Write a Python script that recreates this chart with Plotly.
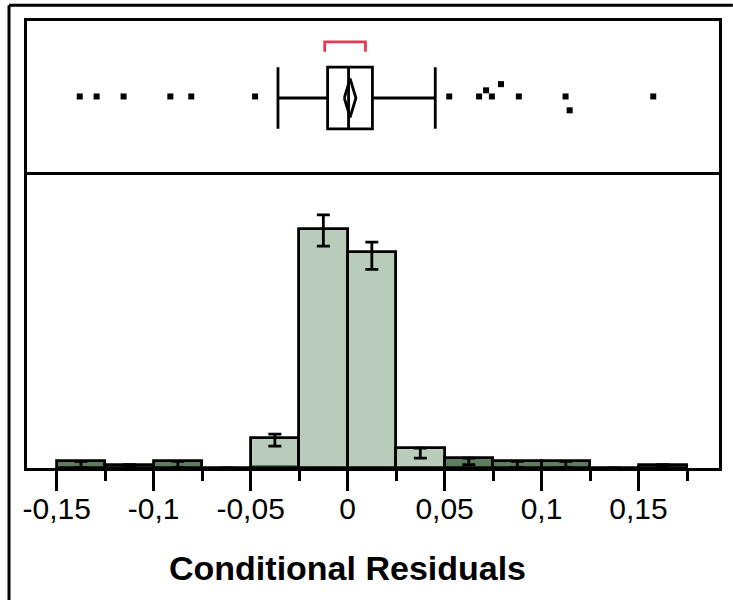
import plotly.graph_objects as go

# ---------------- data ----------------
bin_centers = [-0.1375, -0.1125, -0.0875, -0.0625, -0.0375, -0.0125, 0.0125,
               0.0375, 0.0625, 0.0875, 0.1125, 0.1375, 0.1625]
bin_width = 0.025
counts = [2, 1, 2, 0, 9, 72, 65, 6, 3, 2, 2, 0, 1]
selected_counts = [2, 1, 2, 0, 1, 0, 0, 0, 3, 2, 2, 0, 1]
err_plus = [0, 0, 0, 0, 1.2, 4.2, 3.0, 0, 0, 0, 0, 0, 0]
err_minus = [1.8, 0.9, 1.8, 0, 2.4, 5.2, 5.2, 3.0, 2.0, 1.8, 1.8, 0, 0.9]

# box plot summary
q1 = -0.0103
median = 0.0005
q3 = 0.0128
whisker_lo = -0.0359
whisker_hi = 0.0452
mean = 0.0013
mean_ci_lo = -0.0017
mean_ci_hi = 0.0043
shortest_half = [-0.0118, 0.0092]
outliers_x = [-0.1381, -0.1294, -0.1155, -0.0914, -0.0806, -0.0477, 0.0524, 0.0678,
              0.0714, 0.0744, 0.0791, 0.0883, 0.1124, 0.1145, 0.1576]
outliers_jitter = [0.51, 0.51, 0.51, 0.51, 0.51, 0.51, 0.51, 0.51,
                   0.55, 0.51, 0.59, 0.51, 0.51, 0.42, 0.51]

tick_vals = [-0.15, -0.1, -0.05, 0, 0.05, 0.1, 0.15]
tick_text = ["-0,15", "-0,1", "-0,05", "0", "0,05", "0,1", "0,15"]
x_title = "Conditional Residuals"

LIGHT = "#B9CBBB"
DARK = "#5E7D5E"
FONT = "Arial, Liberation Sans, sans-serif"

fig = go.Figure()

# histogram fills
fig.add_trace(go.Bar(x=bin_centers, y=counts, width=bin_width, marker=dict(color=LIGHT, line=dict(width=0)),
                     xaxis="x", yaxis="y", showlegend=False, hoverinfo="skip"))
fig.add_trace(go.Bar(x=bin_centers, y=selected_counts, width=bin_width, marker=dict(color=DARK, line=dict(width=0)),
                     xaxis="x", yaxis="y", showlegend=False, hoverinfo="skip"))
# outlines + error bars
fig.add_trace(go.Bar(x=bin_centers, y=counts, width=bin_width,
                     marker=dict(color="rgba(0,0,0,0)", line=dict(color="black", width=2.8)),
                     error_y=dict(type="data", symmetric=False, array=err_plus, arrayminus=err_minus,
                                  color="black", thickness=2.8, width=6.5),
                     xaxis="x", yaxis="y", showlegend=False, hoverinfo="skip"))

# box plot
fig.add_trace(go.Box(q1=[q1], median=[median], q3=[q3], lowerfence=[whisker_lo], upperfence=[whisker_hi],
                     y=[0.5], orientation="h", width=0.4, whiskerwidth=1, boxpoints=False,
                     fillcolor="white", line=dict(color="black", width=2.8),
                     xaxis="x2", yaxis="y2", showlegend=False, hoverinfo="skip"))
# mean diamond
dh = 0.125
fig.add_trace(go.Scatter(x=[mean_ci_lo, mean, mean_ci_hi, mean, mean_ci_lo],
                         y=[0.5, 0.5 + dh, 0.5, 0.5 - dh, 0.5], mode="lines",
                         line=dict(color="black", width=2.8), xaxis="x2", yaxis="y2",
                         showlegend=False, hoverinfo="skip"))
# shortest half bracket
fig.add_trace(go.Scatter(x=[shortest_half[0], shortest_half[0], shortest_half[1], shortest_half[1]],
                         y=[0.80, 0.865, 0.865, 0.80], mode="lines",
                         line=dict(color="#E8384F", width=2.8), xaxis="x2", yaxis="y2",
                         showlegend=False, hoverinfo="skip"))
# outliers
fig.add_trace(go.Scatter(x=outliers_x, y=outliers_jitter, mode="markers",
                         marker=dict(symbol="square", size=6, color="black", line=dict(width=0)),
                         xaxis="x2", yaxis="y2", showlegend=False, hoverinfo="skip"))

x_range = [-0.1653, 0.1915]
split = 0.6555

fig.update_layout(
    width=733, height=600,
    margin=dict(l=27, r=11, t=21, b=132),
    paper_bgcolor="white", plot_bgcolor="white",
    barmode="overlay", bargap=0,
    font=dict(family=FONT, color="black"),
    xaxis=dict(domain=[0, 1], range=x_range, showgrid=False, zeroline=False,
               showline=True, linecolor="black", linewidth=3, mirror=True,
               ticks="outside", ticklen=20, tickwidth=2.8, tickcolor="black",
               tickvals=tick_vals, ticktext=tick_text, tickfont=dict(size=30, family=FONT),
               ticklabelstandoff=-8,
               minor=dict(dtick=0.025, tick0=0.025, ticks="outside", ticklen=10, tickwidth=2.8,
                          tickcolor="black", showgrid=False)),
    yaxis=dict(domain=[0, split], range=[0, 88.2], showgrid=False, zeroline=False,
               showline=True, linecolor="black", linewidth=3, mirror=True,
               showticklabels=False, ticks=""),
    xaxis2=dict(domain=[0, 1], range=x_range, anchor="y2", side="top", showgrid=False, zeroline=False,
                showline=True, linecolor="black", linewidth=3, mirror=False,
                showticklabels=False, ticks=""),
    yaxis2=dict(domain=[split, 1], range=[0, 1], anchor="x2", showgrid=False, zeroline=False,
                showline=True, linecolor="black", linewidth=3, mirror=True,
                showticklabels=False, ticks=""),
    annotations=[
        dict(text="<b>" + x_title + "</b>", xref="x", x=0, xanchor="center",
             yref="paper", y=-0.224, yanchor="middle", showarrow=False,
             font=dict(size=34, family=FONT, color="black")),
    ],
    shapes=[
        dict(type="line", xref="paper", yref="paper", x0=-0.026, x1=1.02, y0=1.035, y1=1.035,
             line=dict(color="black", width=3)),
        dict(type="line", xref="paper", yref="paper", x0=-0.026, x1=-0.026, y0=1.035, y1=-0.3,
             line=dict(color="black", width=3)),
    ],
)

fig.write_html("out.html")
